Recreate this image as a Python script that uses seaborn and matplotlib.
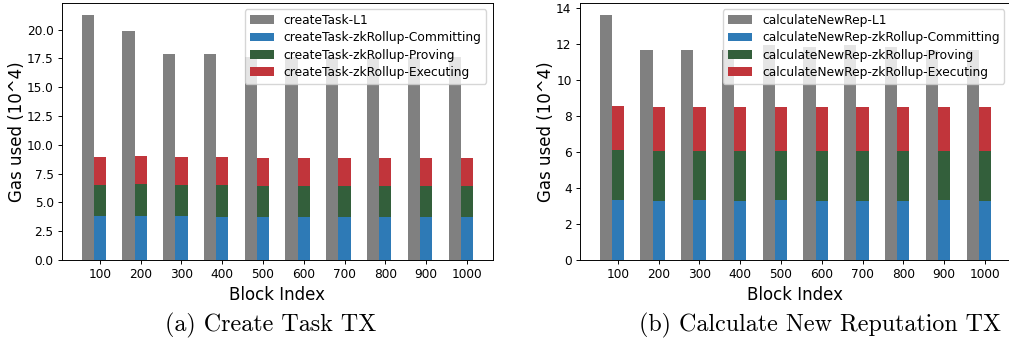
import numpy as np
import pandas as pd
import matplotlib
matplotlib.use("Agg")
import matplotlib.pyplot as plt
from matplotlib.patches import Patch
import seaborn as sns

# ---------------- data ----------------
blocks = ["100", "200", "300", "400", "500", "600", "700", "800", "900", "1000"]

task_l1 = [21.25, 19.85, 17.9, 17.9, 17.6, 17.6, 17.6, 17.6, 17.6, 17.6]
task_commit = [3.83, 3.83, 3.83, 3.72, 3.72, 3.72, 3.72, 3.72, 3.72, 3.72]
task_prove = [2.69, 2.80, 2.69, 2.80, 2.71, 2.71, 2.71, 2.71, 2.71, 2.71]
task_exec = [2.44, 2.41, 2.44, 2.44, 2.44, 2.44, 2.44, 2.44, 2.44, 2.44]

rep_l1 = [13.6, 11.65, 11.65, 11.65, 11.95, 11.85, 11.95, 11.85, 11.65, 11.65]
rep_commit = [3.35, 3.29, 3.35, 3.29, 3.35, 3.29, 3.29, 3.29, 3.35, 3.29]
rep_prove = [2.74, 2.74, 2.68, 2.74, 2.68, 2.74, 2.74, 2.74, 2.68, 2.74]
rep_exec = [2.46, 2.46, 2.46, 2.46, 2.46, 2.46, 2.46, 2.46, 2.46, 2.46]

task_labels = ["createTask-L1", "createTask-zkRollup-Committing",
               "createTask-zkRollup-Proving", "createTask-zkRollup-Executing"]
rep_labels = ["calculateNewRep-L1", "calculateNewRep-zkRollup-Committing",
              "calculateNewRep-zkRollup-Proving", "calculateNewRep-zkRollup-Executing"]
captions = ["(a) Create Task TX", "(b) Calculate New Reputation TX"]

C_GRAY = "#808080"
C_BLUE = "#2e7ab6"
C_GREEN = "#335f3b"
C_RED = "#c1353b"

TICK_FS = 8.7
LABEL_FS = 12
LEGEND_FS = 8.8
S = 0.86  # overall scale of line widths / paddings

plt.rcParams.update({
    "axes.linewidth": 0.8 * S,
    "xtick.major.size": 3.5 * S, "ytick.major.size": 3.5 * S,
    "xtick.major.width": 0.8 * S, "ytick.major.width": 0.8 * S,
    "xtick.major.pad": 3.5 * S, "ytick.major.pad": 3.5 * S,
    "axes.labelpad": 4.0 * S,
})


def draw_panel(ax, l1, commit, prove, execu, labels):
    commit = np.array(commit)
    prove = np.array(prove)
    execu = np.array(execu)
    lvl2 = commit + prove
    lvl3 = lvl2 + execu
    hue_order = ["L1", "zk"]
    df_top = pd.DataFrame({
        "block": blocks * 2,
        "kind": ["L1"] * len(blocks) + ["zk"] * len(blocks),
        "gas": list(l1) + list(lvl3),
    })
    sns.barplot(data=df_top, x="block", y="gas", hue="kind", hue_order=hue_order,
                order=blocks, palette={"L1": C_GRAY, "zk": C_RED}, width=0.6,
                dodge=True, saturation=1, errorbar=None, legend=False, ax=ax,
                linewidth=0)
    for vals, col in [(lvl2, C_GREEN), (commit, C_BLUE)]:
        df = pd.DataFrame({"block": blocks, "kind": ["zk"] * len(blocks), "gas": vals})
        sns.barplot(data=df, x="block", y="gas", hue="kind", hue_order=hue_order,
                    order=blocks, palette={"L1": C_GRAY, "zk": col}, width=0.6,
                    dodge=True, saturation=1, errorbar=None, legend=False, ax=ax,
                    linewidth=0)
    n = len(blocks)
    ax.set_xticks(np.arange(n) + 0.15)
    ax.set_xticklabels(blocks)
    ax.set_xlim(-0.78, n - 1 + 0.15 + 0.63)
    ymax = max(max(l1), lvl3.max()) * 1.05
    ax.set_ylim(0, ymax)
    ax.tick_params(labelsize=TICK_FS)
    ax.set_xlabel("Block Index", fontsize=LABEL_FS)
    ax.set_ylabel("Gas used (10^4)", fontsize=LABEL_FS, labelpad=0.8)
    handles = [Patch(facecolor=c) for c in [C_GRAY, C_BLUE, C_GREEN, C_RED]]
    ax.legend(handles, labels, loc="upper right", fontsize=LEGEND_FS,
              labelspacing=0.35)


W, H = 1009, 343
fig = plt.figure(figsize=(W / 100, H / 100), dpi=100)
ax1 = fig.add_axes([62 / W, 83 / H, 430.6 / W, 257 / H])
ax2 = fig.add_axes([580 / W, 83 / H, 430.6 / W, 257 / H])

draw_panel(ax1, task_l1, task_commit, task_prove, task_exec, task_labels)
draw_panel(ax2, rep_l1, rep_commit, rep_prove, rep_exec, rep_labels)

fig.text(270.8 / W, 1 - 325 / H, captions[0], family="cmr10", fontsize=17.3,
         ha="center", va="center")
fig.text(820 / W, 1 - 325 / H, captions[1], family="cmr10", fontsize=17.3,
         ha="center", va="center")

fig.savefig("out.png", dpi=100)
